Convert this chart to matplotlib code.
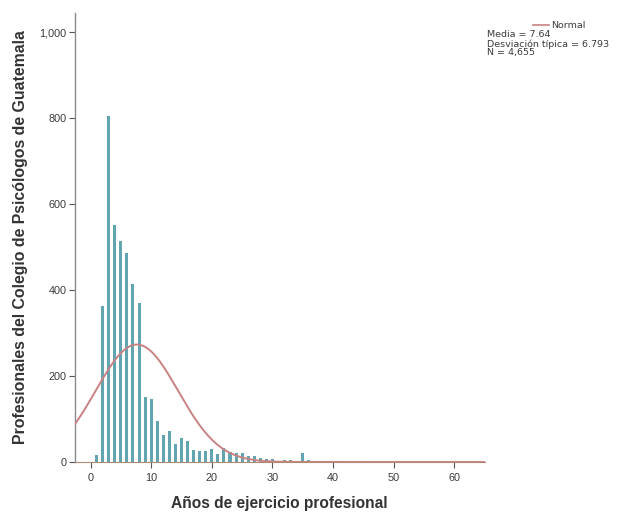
import numpy as np
import matplotlib
matplotlib.use("Agg")
import matplotlib.pyplot as plt

plt.rcParams['font.family'] = ['Liberation Sans', 'DejaVu Sans']

# years of practice and counts per year
years = list(range(1, 41))
counts = [16, 363, 806, 551, 514, 487, 415, 371, 152, 147,
          95, 63, 73, 42, 57, 48, 29, 25, 26, 30,
          19, 32, 24, 21, 20, 15, 13, 10, 8, 6,
          3, 4, 4, 2, 22, 4, 3, 3, 2, 1]

media = 7.64
desv = 6.793
n_total = 4655

xticks = [0, 10, 20, 30, 40, 50, 60]
yticks = [0, 200, 400, 600, 800, 1000]
ytick_labels = ["0", "200", "400", "600", "800", "1,000"]

fig = plt.figure(figsize=(6.23, 5.13), dpi=100)
ax = fig.add_axes([0.120, 0.0994, 0.658, 0.8753])

ax.bar(years, counts, width=0.5, color="#62a5b1", edgecolor="none", zorder=2)

x = np.linspace(-2.6, 65, 400)
y = n_total / (desv * np.sqrt(2 * np.pi)) * np.exp(-0.5 * ((x - media) / desv) ** 2)
ax.plot(x, y, color="#c98282", lw=1.4, zorder=3)

ax.set_xlim(-2.6, 65)
ax.set_ylim(0, 1045)
ax.set_xticks(xticks)
ax.set_yticks(yticks)
ax.set_yticklabels(ytick_labels)
ax.tick_params(axis='both', labelsize=7.8, colors="#555555", labelcolor="#3b3b3b",
               length=4, width=0.8)
ax.tick_params(axis='x', pad=4)
ax.tick_params(axis='y', pad=2)

for s in ['top', 'right']:
    ax.spines[s].set_visible(False)
ax.spines['left'].set_color("#8a8a8a")
ax.spines['bottom'].set_color("#b08a70")
ax.spines['left'].set_linewidth(1.0)
ax.spines['bottom'].set_linewidth(0.8)

ax.set_xlabel("Años de ejercicio profesional", fontsize=11.2, fontweight='bold',
              color="#333333", labelpad=9)
ax.set_ylabel("Profesionales del Colegio de Psicólogos de Guatemala", fontsize=11.4,
              fontweight='bold', color="#333333", labelpad=8)

# legend box at top right
leg_font = dict(fontsize=6.8, color="#3b3b3b", va='center', family='DejaVu Sans')
fig.lines.append(plt.Line2D([533 / 623, 549 / 623], [1 - 25 / 513, 1 - 25 / 513],
                            color="#c98282", lw=1.2, transform=fig.transFigure))
fig.text(551 / 623, 1 - 25 / 513, "Normal", **leg_font)
fig.text(487 / 623, 1 - 35 / 513, "Media = 7.64", **leg_font)
fig.text(487 / 623, 1 - 44 / 513, "Desviación típica = 6.793", **leg_font)
fig.text(487 / 623, 1 - 53 / 513, "N = 4,655", **leg_font)

fig.savefig("out.png", dpi=100)
